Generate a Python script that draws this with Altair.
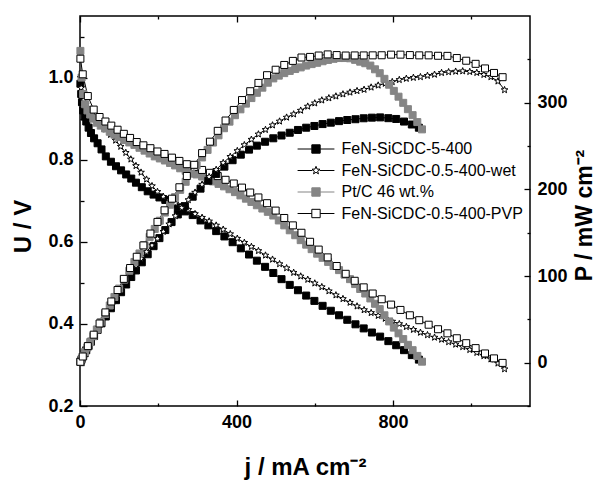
import altair as alt
import pandas as pd

SERIES = ["FeN-SiCDC-5-400", "FeN-SiCDC-0.5-400-wet", "Pt/C 46 wt.%", "FeN-SiCDC-0.5-400-PVP"]

# FeN-SiCDC-5-400 (filled black squares)
j_b = [1, 3, 5, 8, 12, 16, 22, 28, 36, 45, 55, 66, 79, 92, 105, 118, 131, 143, 158, 173,
       188, 203, 218, 234, 250, 268, 288, 308, 328, 348, 369, 390, 411, 432, 452, 473, 494, 515, 536, 557,
       578, 599, 620, 641, 662, 683, 704, 725, 746, 767, 788, 808, 828, 848, 866]
u_b = [0.985, 0.96, 0.94, 0.92, 0.905, 0.893, 0.878, 0.865, 0.852, 0.84, 0.825, 0.808, 0.795, 0.784, 0.774, 0.764, 0.754, 0.744, 0.733, 0.723,
       0.715, 0.708, 0.702, 0.693, 0.684, 0.674, 0.665, 0.652, 0.64, 0.626, 0.613, 0.599, 0.584, 0.569, 0.554, 0.539, 0.524, 0.509, 0.495, 0.482,
       0.469, 0.456, 0.444, 0.432, 0.421, 0.41, 0.399, 0.389, 0.379, 0.369, 0.358, 0.348, 0.336, 0.324, 0.313]
p_b = [1.0, 2.9, 4.7, 7.4, 10.9, 14.3, 19.3, 24.2, 30.7, 37.8, 45.4, 53.3, 62.8, 72.1, 81.3, 90.2, 98.8, 106.4, 115.8, 125.1,
       134.4, 143.7, 153.0, 162.2, 171.0, 180.6, 191.5, 200.8, 209.9, 217.8, 226.2, 233.6, 240.0, 245.8, 250.4, 254.9, 258.9, 262.1, 265.3, 268.5,
       271.1, 273.1, 275.3, 276.9, 278.7, 280.0, 280.9, 282.0, 282.7, 283.0, 282.1, 281.2, 278.2, 274.8, 271.1]

# FeN-SiCDC-0.5-400-wet (open stars)
j_s = [1, 3, 6, 10, 15, 21, 28, 36, 45, 55, 66, 78, 91, 104, 117, 130, 143, 156, 170, 184,
       198, 213, 228, 244, 260, 277, 294, 312, 330, 348, 366, 384, 402, 420, 438, 456, 474, 492, 510, 528,
       546, 564, 582, 600, 618, 636, 654, 672, 690, 708, 726, 744, 762, 780, 798, 816, 834, 852, 870, 888,
       906, 924, 942, 960, 978, 996, 1014, 1032, 1050, 1068, 1085]
u_s = [1.0, 0.975, 0.958, 0.945, 0.935, 0.926, 0.917, 0.906, 0.895, 0.885, 0.874, 0.861, 0.847, 0.832, 0.817, 0.801, 0.785, 0.769, 0.752, 0.736,
       0.722, 0.71, 0.701, 0.694, 0.687, 0.678, 0.668, 0.659, 0.65, 0.64, 0.63, 0.619, 0.608, 0.598, 0.588, 0.578, 0.567, 0.557, 0.546, 0.536,
       0.525, 0.516, 0.508, 0.499, 0.49, 0.48, 0.47, 0.461, 0.452, 0.443, 0.434, 0.427, 0.42, 0.413, 0.406, 0.4, 0.393, 0.386, 0.379, 0.373,
       0.367, 0.362, 0.356, 0.35, 0.344, 0.337, 0.33, 0.322, 0.314, 0.304, 0.29]
p_s = [1.0, 2.9, 5.7, 9.5, 14.0, 19.4, 25.7, 32.6, 40.3, 48.7, 57.7, 67.2, 77.1, 86.5, 95.6, 104.1, 112.3, 120.0, 127.8, 135.4,
       143.0, 151.2, 159.8, 169.3, 178.6, 187.8, 196.4, 205.6, 214.5, 222.7, 230.6, 237.7, 244.4, 251.2, 257.5, 263.6, 268.8, 274.0, 278.5, 283.0,
       286.7, 291.0, 295.7, 299.4, 302.8, 305.3, 307.4, 309.8, 311.9, 313.6, 315.1, 317.7, 320.0, 322.1, 324.0, 326.4, 327.8, 328.9, 329.7, 331.2,
       332.5, 334.5, 335.4, 336.0, 336.4, 335.7, 334.6, 332.3, 329.7, 324.7, 314.7]

# Pt/C 46 wt.% (filled grey squares)
j_g = [1, 4, 8, 13, 19, 26, 34, 43, 53, 64, 76, 88, 100, 113, 126, 139, 152, 165, 178, 191,
       204, 217, 230, 243, 256, 270, 284, 298, 312, 326, 340, 354, 368, 382, 396, 410, 424, 438, 452, 466,
       480, 494, 508, 522, 536, 550, 564, 578, 592, 606, 620, 634, 648, 662, 676, 690, 703, 716, 729, 742,
       754, 766, 778, 790, 802, 814, 826, 838, 850, 862, 874]
u_g = [1.065, 1.0, 0.96, 0.935, 0.92, 0.91, 0.9, 0.89, 0.883, 0.876, 0.868, 0.861, 0.855, 0.848, 0.842, 0.836, 0.829, 0.822, 0.815, 0.808,
       0.803, 0.798, 0.792, 0.786, 0.779, 0.773, 0.768, 0.764, 0.759, 0.753, 0.747, 0.741, 0.735, 0.728, 0.721, 0.713, 0.705, 0.697, 0.689, 0.681,
       0.673, 0.664, 0.652, 0.64, 0.628, 0.616, 0.604, 0.593, 0.582, 0.571, 0.561, 0.551, 0.541, 0.531, 0.52, 0.509, 0.497, 0.485, 0.474, 0.462,
       0.449, 0.436, 0.421, 0.406, 0.391, 0.377, 0.363, 0.349, 0.336, 0.322, 0.308]
p_g = [1.1, 4.0, 7.7, 12.2, 17.5, 23.7, 30.6, 38.3, 46.8, 56.1, 66.0, 75.8, 85.5, 95.8, 106.1, 116.2, 126.0, 135.6, 145.1, 154.3,
       163.8, 173.2, 182.2, 191.0, 199.4, 208.7, 218.1, 227.7, 236.8, 245.5, 254.0, 262.3, 270.5, 278.1, 285.5, 292.3, 298.9, 305.3, 311.4, 317.3,
       323.0, 328.0, 331.2, 334.1, 336.6, 338.8, 340.7, 342.8, 344.5, 346.0, 347.8, 349.3, 350.6, 351.5, 351.5, 351.2, 349.4, 347.3, 345.5, 342.8,
       338.5, 334.0, 327.5, 320.7, 313.6, 306.9, 299.8, 292.5, 285.6, 277.6, 269.2]

# FeN-SiCDC-0.5-400-PVP (open squares)
j_o = [1, 7, 20, 35, 50, 65, 80, 96, 112, 128, 145, 162, 180, 198, 216, 235, 254, 273, 292, 312,
       332, 352, 372, 393, 414, 435, 456, 478, 500, 522, 544, 566, 588, 610, 633, 656, 679, 702, 725, 748,
       771, 795, 819, 843, 867, 891, 915, 939, 963, 987, 1011, 1035, 1058, 1080]
u_o = [1.046, 1.008, 0.955, 0.922, 0.904, 0.893, 0.883, 0.873, 0.863, 0.853, 0.843, 0.835, 0.828, 0.82, 0.814, 0.805, 0.797, 0.789, 0.782, 0.775,
       0.768, 0.76, 0.751, 0.742, 0.732, 0.72, 0.708, 0.694, 0.676, 0.658, 0.64, 0.622, 0.6, 0.581, 0.562, 0.541, 0.522, 0.505, 0.489, 0.474,
       0.46, 0.447, 0.434, 0.421, 0.409, 0.398, 0.387, 0.377, 0.365, 0.353, 0.341, 0.328, 0.316, 0.305]
p_o = [1.0, 7.1, 19.1, 32.3, 45.2, 58.0, 70.6, 83.8, 96.7, 109.2, 122.2, 135.3, 149.0, 162.4, 175.8, 189.2, 202.4, 215.4, 228.3, 241.8,
       255.0, 267.5, 279.4, 291.6, 303.0, 313.2, 322.8, 331.7, 338.0, 343.5, 348.2, 352.1, 352.8, 354.4, 355.7, 354.9, 354.4, 354.5, 354.5, 354.6,
       354.7, 355.4, 355.4, 354.9, 354.6, 354.6, 354.1, 354.0, 351.5, 348.4, 344.8, 339.5, 334.3, 329.4]

X_TICKS = [0, 400, 800]
X_MINOR = [200, 600, 1000]
U_TICKS = [0.2, 0.4, 0.6, 0.8, 1.0]
U_MINOR = [0.3, 0.5, 0.7, 0.9, 1.1]
P_TICKS = [0, 100, 200, 300]
P_MINOR = [-50, 50, 150, 250, 350]

rows = []
for name, js, us, ps in zip(SERIES, [j_b, j_s, j_g, j_o], [u_b, u_s, u_g, u_o], [p_b, p_s, p_g, p_o]):
    for j, u, p in zip(js, us, ps):
        rows.append({"series": name, "j": j, "U": u, "P": p})
df = pd.DataFrame(rows)

W, H = 450, 390
FONT = "Liberation Sans"
GREY = "#858585"
STROKES = ["#000000", "#000000", GREY, "#000000"]
FILLS = ["#000000", "#ffffff", GREY, "#ffffff"]
TICK_COLOR = "black"

SQ = "M-1,-1H1V1H-1Z"
ST = "M0,-1L0.247,-0.34L0.951,-0.309L0.399,0.13L0.588,0.809L0,0.42L-0.588,0.809L-0.399,0.13L-0.951,-0.309L-0.247,-0.34Z"
LEG_SQ = "M-4.4,0H-1M1,0H4.4" + SQ
LEG_ST = "M-4.4,0H-0.85M0.85,0H4.4" + ST


def inward(n):
    # tick length pointing into the plot area
    return alt.ExprRef(expr=str(-n))


def xenc(axis):
    return alt.X("j:Q", scale=alt.Scale(domain=[0, 1150], nice=False, zero=False), axis=axis)


def uenc(axis):
    return alt.Y("U:Q", scale=alt.Scale(domain=[0.2, 1.15], nice=False, zero=False), axis=axis)


def penc(axis):
    return alt.Y("P:Q", scale=alt.Scale(domain=[-50, 400], nice=False, zero=False), axis=axis)


def tick_axis(orient, values, size):
    return alt.Axis(orient=orient, values=values, tickSize=inward(size), labels=False,
                    domain=False, grid=False, title=None, ticks=True, tickColor=TICK_COLOR, tickWidth=1.3)


label_style = dict(labelFont=FONT, labelFontSize=18, labelFontWeight="bold", labelColor="black",
                   labelFlush=False, labelOverlap=False, ticks=True, tickColor=TICK_COLOR, tickWidth=1.3,
                   domain=False, grid=False,
                   titleFont=FONT, titleFontWeight="bold", titleColor="black")

x_lab = alt.Axis(orient="bottom", values=X_TICKS, format="d", tickSize=inward(6), labelPadding=13,
                 title="j / mA cm⁻²", titleFontSize=24, titleX=225, titleY=68, titleAlign="center",
                 titleBaseline="alphabetic", titleAngle=0, **label_style)
u_lab = alt.Axis(orient="left", values=U_TICKS, format=".1f", tickSize=inward(7), labelPadding=14,
                 title="U / V", titleFontSize=24, titleX=-57, titleY=210, titleAngle=270, titleAlign="center",
                 titleBaseline="middle", **label_style)
p_lab = alt.Axis(orient="right", values=P_TICKS, format="d", tickSize=inward(6), labelPadding=13,
                 title="P / mW cm⁻²", titleFontSize=23, titleX=54, titleY=199, titleAngle=270, titleAlign="center",
                 titleBaseline="middle", **label_style)

stroke_enc = alt.Stroke("series:N", scale=alt.Scale(domain=SERIES, range=STROKES), legend=None)
fill_enc = alt.Fill("series:N", scale=alt.Scale(domain=SERIES, range=FILLS), legend=None)
shape_enc = alt.Shape("series:N", scale=alt.Scale(domain=SERIES, range=[SQ, ST, SQ, SQ]), legend=None)

base = alt.Chart(df)
pt = dict(size=49, opacity=1, strokeWidth=1, filled=False)

l1 = base.mark_line(strokeWidth=1).encode(x=xenc(x_lab), y=uenc(u_lab), stroke=stroke_enc)
l2 = base.mark_point(**pt).encode(
    x=xenc(tick_axis("bottom", X_MINOR, 3)), y=uenc(tick_axis("left", U_MINOR, 4)),
    shape=shape_enc, fill=fill_enc, stroke=stroke_enc)
l3 = base.mark_point(opacity=0).encode(
    x=xenc(tick_axis("top", X_TICKS, 6)), y=uenc(None))
l4 = base.mark_line(strokeWidth=1).encode(
    x=xenc(tick_axis("top", X_MINOR, 3)), y=penc(p_lab), stroke=stroke_enc)
l5 = base.mark_point(**pt).encode(
    x=xenc(None), y=penc(tick_axis("right", P_MINOR, 3)),
    shape=shape_enc, fill=fill_enc, stroke=stroke_enc)

leg = alt.Legend(title=None, orient="none", legendX=228, legendY=125, symbolSize=70,
                 symbolStrokeWidth=1, symbolOpacity=1, labelFont=FONT, labelFontSize=16,
                 labelColor="black", labelOffset=17.5, rowPadding=5.5, padding=0, labelLimit=400)
l6 = base.transform_filter("false").mark_point(size=70, opacity=1, strokeWidth=1, filled=False).encode(
    x=xenc(None), y=uenc(None),
    shape=alt.Shape("series:N", scale=alt.Scale(domain=SERIES, range=[LEG_SQ, LEG_ST, LEG_SQ, LEG_SQ]), legend=leg),
    fill=alt.Fill("series:N", scale=alt.Scale(domain=SERIES, range=FILLS), legend=leg),
    stroke=alt.Stroke("series:N", scale=alt.Scale(domain=SERIES, range=STROKES), legend=leg))

chart = alt.layer(l1, l2, l3, l4, l5, l6).resolve_scale(
    y="independent", shape="independent", fill="independent", stroke="independent"
).resolve_axis(x="independent", y="independent").resolve_legend(
    shape="independent", fill="independent", stroke="independent"
).properties(
    width=W, height=H,
    autosize=alt.AutoSizeParams(type="none"),
    padding={"left": 72, "top": 8, "right": 68, "bottom": 75},
).configure_view(stroke="black", strokeWidth=1.5)

chart.save("out.html", embed_options={"renderer": "svg", "actions": False})
